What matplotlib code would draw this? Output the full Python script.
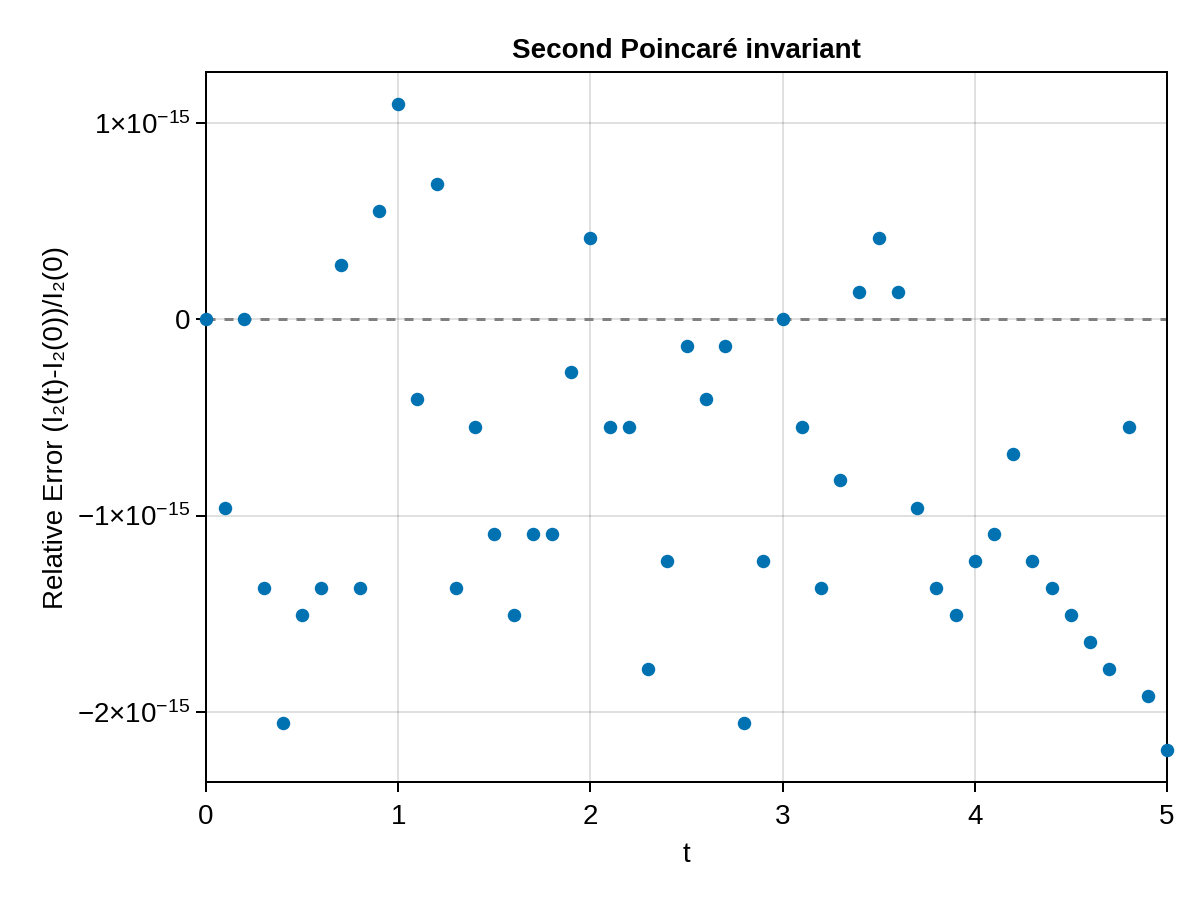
import numpy as np
import matplotlib
matplotlib.use("Agg")
import matplotlib.pyplot as plt
from matplotlib.ticker import FixedLocator, FixedFormatter

plt.rcParams['font.family'] = ['Liberation Sans', 'DejaVu Sans']
plt.rcParams['mathtext.fontset'] = 'custom'
plt.rcParams['mathtext.rm'] = 'Liberation Sans'
plt.rcParams['mathtext.it'] = 'Liberation Sans:italic'
plt.rcParams['mathtext.bf'] = 'Liberation Sans:bold'

# datos (error relativo en unidades de 1e-15)
t = np.round(np.arange(0, 5.01, 0.1), 1)
err = np.array([
    0.0, -0.959, 0.0, -1.367, -2.056, -1.505, -1.367, 0.276, -1.367, 0.551,
    1.097, -0.408, 0.689, -1.367, -0.546, -1.092, -1.505, -1.092, -1.092, -0.270,
    0.413, -0.546, -0.546, -1.781, -1.230, -0.133, -0.408, -0.133, -2.056, -1.230,
    0.0, -0.546, -1.367, -0.821, 0.138, 0.413, 0.138, -0.959, -1.367, -1.505,
    -1.230, -1.092, -0.684, -1.230, -1.367, -1.505, -1.643, -1.781, -0.546, -1.918,
    -2.194,
]) * 1e-15

ytick_vals = [-2e-15, -1e-15, 0.0, 1e-15]
ytick_labels = [r'$-2{\times}10^{-15}$', r'$-1{\times}10^{-15}$', '0', r'$1{\times}10^{-15}$']
xtick_vals = [0, 1, 2, 3, 4, 5]

fs = 20
lw = 1.44  # 2 px
fig = plt.figure(figsize=(12, 9), dpi=100)
ax = fig.add_axes([206 / 1200, 1 - 782 / 900, (1167 - 206) / 1200, (782 - 72) / 900])

ax.grid(True, color='black', alpha=0.12, linewidth=lw)
ax.set_axisbelow(True)
ax.axhline(0, color='gray', linestyle=(0, (3, 3)), linewidth=2.16, zorder=2)
ax.scatter(t, err, s=94, color='#0072B2', zorder=3, linewidths=0, clip_on=False)

ax.set_xlim(0, 5)
rng = err.max() - err.min()
ax.set_ylim(err.min() - 0.05 * rng, err.max() + 0.05 * rng)
ax.xaxis.set_major_locator(FixedLocator(xtick_vals))
ax.yaxis.set_major_locator(FixedLocator(ytick_vals))
ax.yaxis.set_major_formatter(FixedFormatter(ytick_labels))

for sp in ax.spines.values():
    sp.set_linewidth(lw)
ax.tick_params(direction='out', length=7.2, width=lw, labelsize=fs)
ax.tick_params(axis='x', pad=9)
ax.tick_params(axis='y', pad=4)

ax.set_title('Second Poincaré invariant', fontsize=fs, fontweight='bold', pad=10)
ax.set_xlabel('t', fontsize=fs, labelpad=8)
ax.set_ylabel('Relative Error (I₂(t)-I₂(0))/I₂(0)', fontsize=fs, labelpad=6)

fig.savefig('out.png', dpi=100)
